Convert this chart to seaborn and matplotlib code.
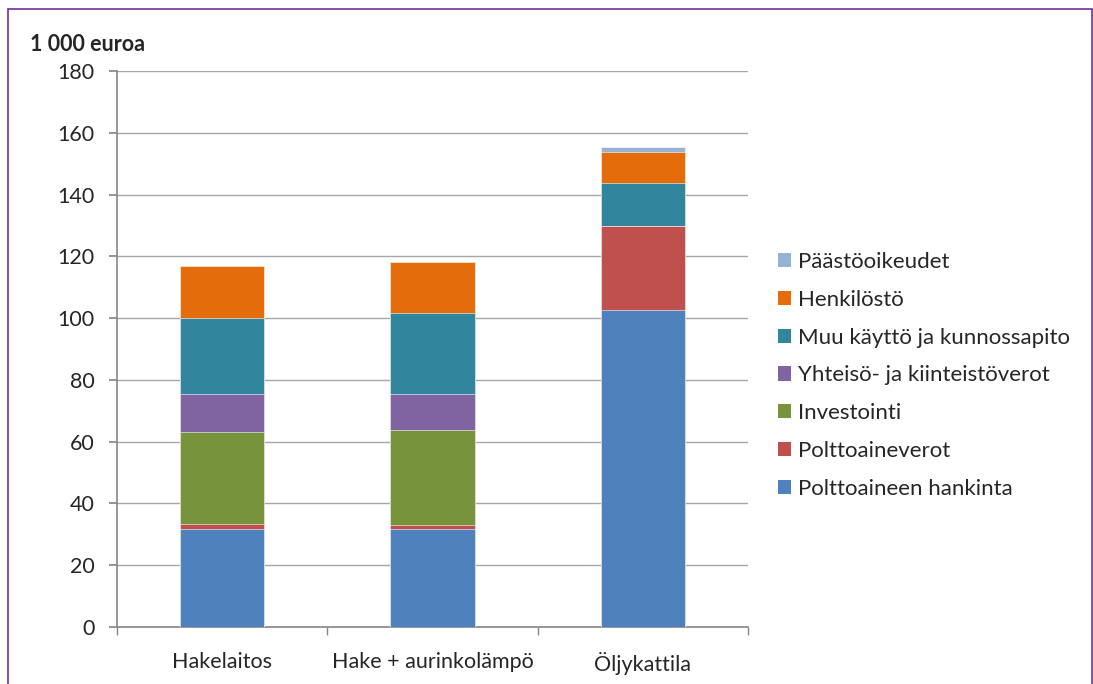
import numpy as np
import pandas as pd
import seaborn as sns
import matplotlib.pyplot as plt
from matplotlib.patches import Patch, Rectangle

categories = ['Hakelaitos', 'Hake + aurinkolämpö', 'Öljykattila']
series = ['Polttoaineen hankinta', 'Polttoaineverot', 'Investointi',
          'Yhteisö- ja kiinteistöverot', 'Muu käyttö ja kunnossapito',
          'Henkilöstö', 'Päästöoikeudet']
hankinta = [31.8, 31.6, 102.5]
polttoaineverot = [1.5, 1.3, 27.3]
investointi = [29.9, 30.8, 0.0]
yhteiso = [12.1, 11.6, 0.0]
muu_kaytto = [24.8, 26.2, 14.0]
henkilosto = [16.8, 16.6, 10.1]
paastooikeudet = [0.0, 0.0, 1.5]
colors = ['#4F81BD', '#C0504D', '#77933C', '#8064A2', '#31859C', '#E46C0A', '#95B3D7']

sns.set_theme(style='white')
plt.rcParams['font.family'] = ['Lato', 'DejaVu Sans']
FS = 15.5

df = pd.DataFrame({'kategoria': categories})
values = [hankinta, polttoaineverot, investointi, yhteiso, muu_kaytto, henkilosto, paastooikeudet]
cum = np.cumsum(np.array(values), axis=0)

fig = plt.figure(figsize=(10.93, 6.84), dpi=100)
ax = fig.add_axes([0.107, 0.0833, 0.5774, 0.8129])

# draw stacked bars from the top layer down
for i in range(len(series) - 1, -1, -1):
    df['arvo'] = cum[i]
    sns.barplot(data=df, x='kategoria', y='arvo', color=colors[i], width=0.4,
                saturation=1, ax=ax, edgecolor='#FFFFFF', linewidth=0.4, zorder=3)

ax.set_ylim(0, 180)
ax.set_xlim(-0.5, 2.5)
ax.set_yticks(range(0, 181, 20))
ax.set_xlabel('')
ax.set_ylabel('')
ax.yaxis.grid(True, color='#A6A6A6', linewidth=1, zorder=0)
ax.set_axisbelow(True)
for side in ['top', 'right']:
    ax.spines[side].set_visible(False)
ax.spines['left'].set_color('#868686')
ax.spines['bottom'].set_color('#868686')
ax.spines['left'].set_linewidth(1.2)
ax.spines['bottom'].set_linewidth(1.2)
ax.tick_params(axis='y', left=True, length=6, color='#868686', labelsize=FS, pad=10)
ax.tick_params(axis='x', bottom=False, labelsize=FS, pad=12)
ax.set_xticks([-0.5, 0.5, 1.5, 2.5], minor=True)
ax.tick_params(axis='x', which='minor', bottom=True, length=6, color='#868686')

fig.text(0.027, 0.935, '1 000 euroa', fontsize=FS, fontweight='bold', va='center')

handles = [Patch(facecolor=colors[i], edgecolor='none') for i in range(len(series) - 1, -1, -1)]
labels = [series[i] for i in range(len(series) - 1, -1, -1)]
fig.legend(handles, labels, loc='upper left', bbox_to_anchor=(0.7035, 0.6445),
           frameon=False, fontsize=16, handlelength=0.6, handleheight=0.6,
           handletextpad=0.3, labelspacing=0.80, borderaxespad=0)

fig.patches.append(Rectangle((8 / 1093, -0.01), 1084 / 1093, (684 - 9) / 684 + 0.01,
                             transform=fig.transFigure, fill=False,
                             edgecolor='#7030A0', linewidth=1.2))

fig.savefig('out.png', dpi=100)
